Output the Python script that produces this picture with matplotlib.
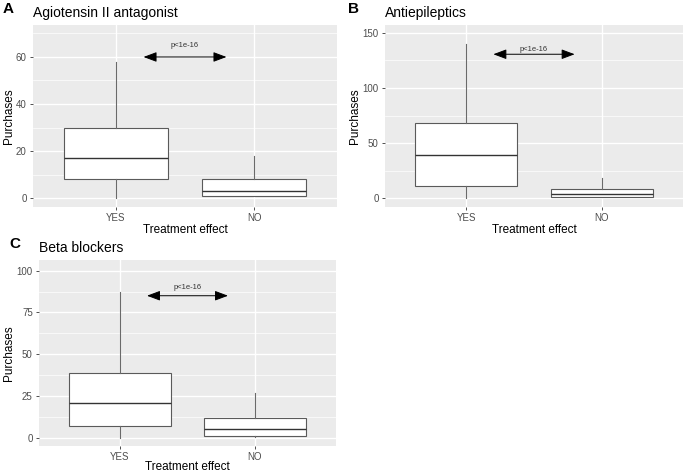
import matplotlib
matplotlib.use("Agg")
import matplotlib.pyplot as plt

plt.rcParams['font.family'] = ['Liberation Sans', 'DejaVu Sans']

# --- data ---
groups = ["YES", "NO"]

titles = ["Agiotensin II antagonist", "Antiepileptics", "Beta blockers"]
panel_tags = ["A", "B", "C"]

# box stats per group: [whislo, q1, median, q3, whishi]
a_yes = [0, 8, 17.2, 29.9, 58]
a_no = [0.8, 1, 3.1, 8, 18]
b_yes = [0, 11, 39, 68.5, 140]
b_no = [0.8, 1.2, 3.6, 8, 18]
c_yes = [0, 6.8, 21, 39, 87]
c_no = [0.6, 0.8, 5, 11.8, 27]

p_text = "p<1e-16"
arrow_y = [60, 130.5, 85]
text_y = [65, 134.5, 90]
y_lims = [(-3.8, 73.6), (-7.9, 157), (-5, 106.4)]
y_ticks = [[0, 20, 40, 60], [0, 50, 100, 150], [0, 25, 50, 75, 100]]
y_minor = [[10, 30, 50, 70], [25, 75, 125], [12.5, 37.5, 62.5, 87.5]]

# --- layout in pixels (left, top, right, bottom) ---
W, H = 685, 474
boxes_px = [(33, 25, 337, 207), (385, 25, 683, 207), (39, 260, 336, 446)]
ylabel_x_px = [9, 355, 9]
xlabel_y_px = [230, 230, 467]

fig = plt.figure(figsize=(W / 100, H / 100), dpi=100)
fig.patch.set_facecolor("white")


def make_stats(vals, label):
    lo, q1, med, q3, hi = vals
    return dict(whislo=lo, q1=q1, med=med, q3=q3, whishi=hi, label=label, fliers=[])


panel_data = [(a_yes, a_no), (b_yes, b_no), (c_yes, c_no)]

for i, (l, t, r, b) in enumerate(boxes_px):
    ax = fig.add_axes([l / W, 1 - b / H, (r - l) / W, (b - t) / H])
    ax.set_facecolor("#EBEBEB")
    for s in ax.spines.values():
        s.set_visible(False)

    ax.set_xlim(0.4, 2.6)
    ax.set_ylim(*y_lims[i])

    # grid
    for yv in y_minor[i]:
        ax.axhline(yv, color="white", lw=0.5, zorder=0)
    for yv in y_ticks[i]:
        ax.axhline(yv, color="white", lw=1.0, zorder=0)
    for xv in [1, 2]:
        ax.axvline(xv, color="white", lw=1.0, zorder=0)

    yes, no = panel_data[i]
    stats = [make_stats(yes, groups[0]), make_stats(no, groups[1])]
    ax.bxp(stats, positions=[1, 2], widths=0.75, showfliers=False,
           showcaps=False, patch_artist=True, manage_ticks=False,
           boxprops=dict(facecolor="white", edgecolor="#5a5a5a", lw=0.8),
           whiskerprops=dict(color="#6a6a6a", lw=0.8),
           medianprops=dict(color="#333333", lw=1.0), zorder=2)

    ax.set_xticks([1, 2])
    ax.set_xticklabels(groups)
    ax.set_yticks(y_ticks[i])
    ax.tick_params(axis="both", colors="#333333", labelcolor="#4D4D4D",
                   labelsize=7, length=2.5, width=0.6, pad=2)

    ax.set_xlabel("Treatment effect", fontsize=8.5)
    ax.set_ylabel("Purchases", fontsize=8.5)
    ax.yaxis.set_label_coords((ylabel_x_px[i] - l) / (r - l), 0.5)
    ax.xaxis.set_label_coords(0.5, -(xlabel_y_px[i] - b) / (b - t))
    ax.xaxis.label.set_va("center")
    ax.yaxis.label.set_va("center")
    ax.set_title(titles[i], fontsize=10, loc="left", pad=6)

    # significance arrow
    ax.annotate("", xy=(1.2, arrow_y[i]), xytext=(1.8, arrow_y[i]),
                arrowprops=dict(arrowstyle="<|-|>,head_length=0.8,head_width=0.3",
                                color="black", lw=0.7, mutation_scale=10,
                                shrinkA=0, shrinkB=0), zorder=3)
    ax.text(1.5, text_y[i], p_text, ha="center", va="center", fontsize=5.5,
            color="#333333")

    # panel tag
    fig.text((l - 30) / W if i != 1 else (l - 37) / W, 1 - (t - 16) / H,
             panel_tags[i], fontsize=11, fontweight="bold", ha="left", va="center")

fig.savefig("out.png", dpi=100)
